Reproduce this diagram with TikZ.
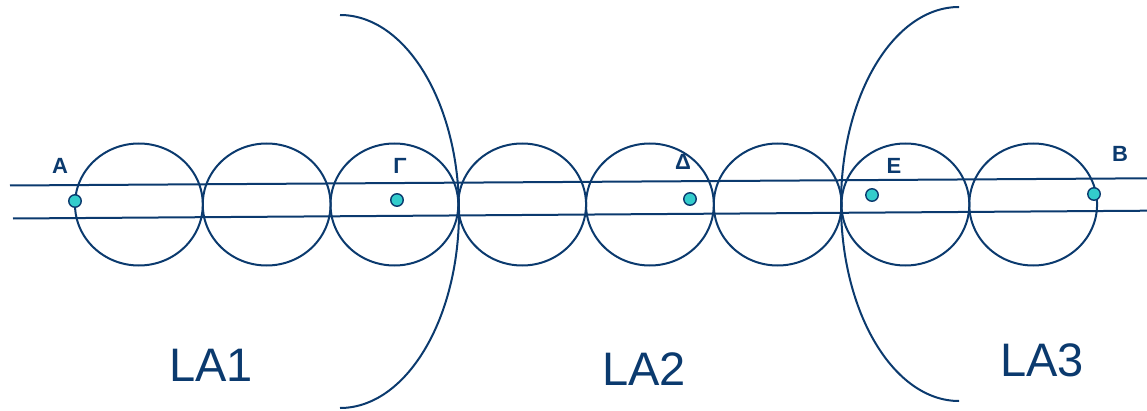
\documentclass[tikz,border=0pt]{standalone}
\usepackage{fontspec}
\setsansfont{Liberation Sans}
\usepackage{tikz}
\usetikzlibrary{positioning}
\definecolor{navy}{HTML}{0B3A6E}
\definecolor{aqua}{HTML}{33CCCC}
\tikzset{
  geo/.style={draw=navy, line width=2pt},
  pt/.style={circle, draw=navy, fill=aqua, line width=1.4pt, inner sep=0pt,
             minimum size=12.5pt},
  ptlabel/.style={text=navy, inner sep=0pt,
                  font=\sffamily\bfseries\fontsize{22}{22}\selectfont},
  zone/.style={text=navy, inner sep=0pt,
               font=\sffamily\fontsize{47}{47}\selectfont}
}

\begin{document}
\begin{tikzpicture}[x=1pt, y=1pt]
  \useasboundingbox (0,0) rectangle (1147,410);

  % eight circles along the corridor
  \foreach \i in {0,...,7}
    \draw[geo] (138.9+127.75*\i, 205.5) ellipse [x radius=63.9, y radius=61];

  % corridor lines
  \coordinate (topW) at (10,224.5);
  \coordinate (topE) at (1147,231.7);
  \coordinate (botW) at (13,191.5);
  \coordinate (botE) at (1147,199.3);
  \draw[geo] (topW) -- (topE);
  \draw[geo] (botW) -- (botE);

  % area borders
  \coordinate (arcL) at (340,395);
  \coordinate (arcR) at (959,403);
  \draw[geo] (arcL) arc [start angle=90, end angle=-90, x radius=119, y radius=196.5];
  \draw[geo] (arcR) arc [start angle=90, end angle=270, x radius=118, y radius=197];

  % points
  \node[pt] (pA) at (75,209) {};
  \node[pt] (pG) at (397,210) {};
  \node[pt] (pD) at (690,211) {};
  \node[pt] (pE) at (872,215) {};
  \node[pt] (pB) at (1094,216) {};

  \node[ptlabel] (lA) at (60,244) {Α};
  \node[ptlabel] (lG) at (400,244) {Γ};
  \node[ptlabel] (lD) at (683,248) {Δ};
  \node[ptlabel] (lE) at (894,244) {Ε};
  \node[ptlabel] (lB) at (1120,256) {Β};

  % areas
  \node[zone] (la1) at (211,45) {LA1};
  \node[zone] (la2) at (644,41) {LA2};
  \node[zone] (la3) at (1042,50) {LA3};
\end{tikzpicture}
\end{document}
